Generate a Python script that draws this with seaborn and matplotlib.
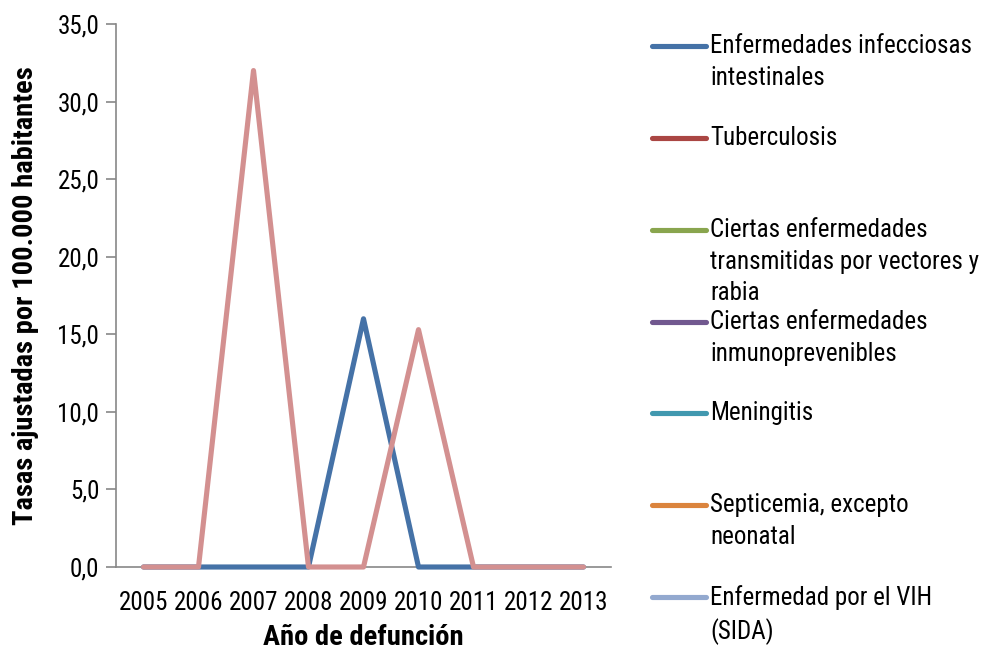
import matplotlib
matplotlib.use("Agg")
import matplotlib.pyplot as plt
from matplotlib.lines import Line2D
import seaborn as sns
import pandas as pd
import numpy as np

years = ["2005", "2006", "2007", "2008", "2009", "2010", "2011", "2012", "2013"]
intestinales = [0, 0, 0, 0, 16.0, 0, 0, 0, 0]
otras = [0, 0, 32.0, 0, 0, 15.3, 0, 0, 0]

legend_labels = [
    "Enfermedades infecciosas\nintestinales",
    "Tuberculosis",
    "Ciertas enfermedades\ntransmitidas por vectores y\nrabia",
    "Ciertas enfermedades\ninmunoprevenibles",
    "Meningitis",
    "Septicemia, excepto\nneonatal",
    "Enfermedad por el VIH\n(SIDA)",
]
legend_colors = ["#4572A7", "#AA4643", "#89A54E", "#71588F", "#4198AF", "#DB843D", "#93A9CF"]
pink = "#D39090"
y_ticks = [0, 5, 10, 15, 20, 25, 30, 35]

sns.set_style("white")
plt.rcParams["font.family"] = ["Roboto Condensed", "Liberation Sans", "DejaVu Sans"]
plt.rcParams["text.color"] = "black"
plt.rcParams["xtick.color"] = "black"
plt.rcParams["ytick.color"] = "black"
plt.rcParams["axes.labelcolor"] = "black"

W, H = 989, 653
fig = plt.figure(figsize=(W / 100, H / 100), dpi=100)
L, R, T, B = 116, 611, 24, 567
ax = fig.add_axes([L / W, 1 - B / H, (R - L) / W, (B - T) / H])

pos = np.arange(len(years))
lw = 3.7
df = pd.DataFrame({"x": pos, "y": intestinales})
sns.lineplot(data=df, x="x", y="y", ax=ax, color=legend_colors[0], linewidth=lw, zorder=3)
df = pd.DataFrame({"x": pos, "y": otras})
sns.lineplot(data=df, x="x", y="y", ax=ax, color=pink, linewidth=lw, zorder=4)
for l in ax.get_lines():
    l.set_solid_joinstyle("round")
    l.set_solid_capstyle("round")
    l.set_clip_on(False)

ax.set_xlim(-0.5, len(years) - 0.5)
ax.set_ylim(0, 35)
ax.set_yticks(y_ticks)
ax.set_yticklabels([f"{v:.1f}".replace(".", ",") for v in y_ticks])
ax.set_xticks(pos)
ax.set_xticklabels(years)
ax.set_xticks(np.arange(len(years) + 1) - 0.5, minor=True)
fs = 18
ax.tick_params(axis="x", which="major", length=0, pad=17, labelsize=fs)
ax.tick_params(axis="x", which="minor", length=7, width=1.2, color="#888888", direction="out")
ax.tick_params(axis="y", which="major", length=7, width=1.2, color="#888888", direction="out", labelsize=fs, pad=5)
ax.tick_params(bottom=True, left=True)
for s in ["top", "right"]:
    ax.spines[s].set_visible(False)
for s in ["left", "bottom"]:
    ax.spines[s].set_color("#888888")
    ax.spines[s].set_linewidth(1.2)
ax.set_xlabel("Año de defunción", fontsize=20.5, fontweight="bold", labelpad=7)
ax.set_ylabel("Tasas ajustadas por 100.000 habitantes", fontsize=20.5, fontweight="bold", labelpad=13)

# legend
ys = [46, 138, 230, 322, 413, 505, 597]
for lab, c, yy in zip(legend_labels, legend_colors, ys):
    fig.add_artist(Line2D([652 / W, 706 / W], [1 - yy / H, 1 - yy / H], color=c, linewidth=lw,
                          solid_capstyle="round", transform=fig.transFigure))
    fig.text(710 / W, 1 - (yy - 12) / H, lab, fontsize=fs, va="top", ha="left", linespacing=1.4)

fig.savefig("out.png", dpi=100)
